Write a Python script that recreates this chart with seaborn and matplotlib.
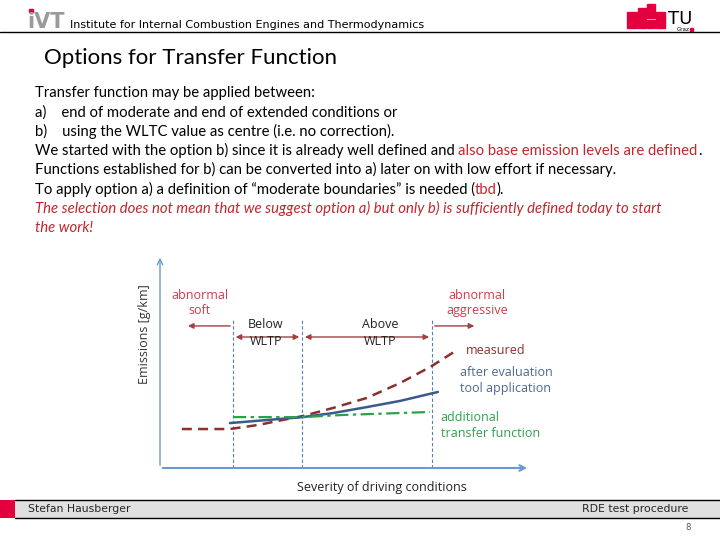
import numpy as np
import pandas as pd
import matplotlib
matplotlib.use("Agg")
import matplotlib.pyplot as plt
from matplotlib.patches import Rectangle
import seaborn as sns

# Curve values (severity vs emissions, arbitrary units 0-100)
measured_x = [5.9, 18.9, 26.5, 33.0, 38.6, 46.8, 55.9, 64.9, 73.0, 80.3]
measured_y = [18.3, 18.3, 20.2, 22.5, 24.4, 28.2, 32.9, 39.9, 47.4, 55.4]
tool_x = [18.9, 38.6, 46.8, 55.9, 64.9, 75.1]
tool_y = [21.1, 23.9, 25.8, 28.6, 31.5, 35.7]
transfer_x = [19.7, 38.6, 49.5, 73.0]
transfer_y = [23.9, 23.9, 24.9, 26.3]
boundaries = [19.7, 38.4, 73.5]

body_lines = [
    [("Transfer function may be applied between:", "k", "normal")],
    [("a)    end of moderate and end of extended conditions or", "k", "normal")],
    [("b)    using the WLTC value as centre (i.e. no correction).", "k", "normal")],
    [("We started with the option b) since it is already well defined and ", "k", "normal"),
     ("also base emission levels are defined", "#C0272D", "normal"), (".", "k", "normal")],
    [("Functions established for b) can be converted into a) later on with low effort if necessary.", "k", "normal")],
    [("To apply option a) a definition of \u201cmoderate boundaries\u201d is needed (", "k", "normal"),
     ("tbd", "#C0272D", "normal"), (").", "k", "normal")],
    [("The selection does not mean that we suggest option a) but only b) is sufficiently defined today to start", "#C0272D", "italic")],
    [("the work!", "#C0272D", "italic")],
]

sns.set_style("white")
plt.rcParams['font.family'] = ['Lato', 'DejaVu Sans']

W, H = 720, 540
fig = plt.figure(figsize=(7.2, 5.4), dpi=100)
renderer = fig.canvas.get_renderer()


def fx(px):
    return px / W


def fy(py):
    return 1 - py / H


# header
fig.text(fx(27), fy(28), "iVT", fontsize=15, color="#9A9A9A", fontweight="bold",
         family="DejaVu Sans")
fig.add_artist(Rectangle((fx(29), fy(12)), 4 / W, 3 / H, color="#E3003F", transform=fig.transFigure))
fig.text(fx(70), fy(28), "Institute for Internal Combustion Engines and Thermodynamics",
         fontsize=8, color="k", family="DejaVu Sans")
fig.add_artist(plt.Line2D([0, 1], [fy(32), fy(32)], color="k", lw=1, transform=fig.transFigure))
for (rx, ry, rw, rh) in [(627, 12, 10, 16), (638, 8, 8, 20), (647, 4, 8, 14), (656, 12, 9, 16), (647, 20, 8, 8)]:
    fig.add_artist(Rectangle((fx(rx), fy(ry + rh)), rw / W, rh / H, color="#E3003F",
                             transform=fig.transFigure))
fig.text(fx(668), fy(24), "TU", fontsize=13, color="k", family="DejaVu Sans")
fig.text(fx(677), fy(31), "Graz", fontsize=4, color="k", family="DejaVu Sans")
fig.add_artist(Rectangle((fx(690), fy(31)), 3 / W, 3 / H, color="#E3003F", transform=fig.transFigure))

# title
fig.text(fx(44), fy(64), "Options for Transfer Function", fontsize=16, color="k")

# body text with coloured parts
y0 = 97
for i, parts in enumerate(body_lines):
    x = 35
    y = y0 + i * 19.3
    for s, c, st in parts:
        t = fig.text(fx(x), fy(y), s, fontsize=10.7, color=c, style=st)
        bb = t.get_window_extent(renderer)
        x = bb.x1

# chart
ax = fig.add_axes([fx(160), fy(468), (530 - 160) / W, (468 - 255) / H])
ax.set_xlim(0, 100)
ax.set_ylim(0, 100)
ax.axis("off")
axis_col = "#6A9BD0"
ax.annotate("", xy=(100, 0), xytext=(0, 0),
            arrowprops=dict(arrowstyle="->", color=axis_col, lw=1.5))
ax.annotate("", xy=(0, 100), xytext=(0, 0),
            arrowprops=dict(arrowstyle="->", color=axis_col, lw=1.0))
for b in boundaries:
    ax.plot([b, b], [0, 70.4], color="#5A7FB0", lw=0.8, ls=(0, (3, 2)))

sns.lineplot(x=measured_x, y=measured_y, ax=ax, color="#8B2F2F", lw=1.8,
             linestyle=(0, (4, 2.5)))
sns.lineplot(x=tool_x, y=tool_y, ax=ax, color="#3A5A8C", lw=1.8)
sns.lineplot(x=transfer_x, y=transfer_y, ax=ax, color="#2FA04A", lw=1.6,
             linestyle=(0, (6, 2, 1.5, 2)))

arrow_col = "#A04040"
ap = dict(arrowstyle="-|>", color=arrow_col, lw=1, mutation_scale=8)
ap2 = dict(arrowstyle="<|-|>", color=arrow_col, lw=1, mutation_scale=8)
ax.annotate("", xy=(6.8, 66.7), xytext=(boundaries[0], 66.7), arrowprops=ap)
ax.annotate("", xy=(boundaries[0], 61.5), xytext=(boundaries[1], 61.5), arrowprops=ap2)
ax.annotate("", xy=(boundaries[1], 61.5), xytext=(boundaries[2], 61.5), arrowprops=ap2)
ax.annotate("", xy=(85.7, 66.7), xytext=(boundaries[2], 66.7), arrowprops=ap)

red = "#D03C4A"
ax.text(10.8, 77.5, "abnormal\nsoft", color=red, fontsize=9, ha="center", va="center",
        linespacing=1.2, family="Open Sans")
ax.text(85.7, 77.5, "abnormal\naggressive", color=red, fontsize=9, ha="center", va="center",
        linespacing=1.2, family="Open Sans")
ax.text(28.6, 63.5, "Below\nWLTP", color="#222222", fontsize=9, ha="center", va="center",
        linespacing=1.4, family="Open Sans")
ax.text(59.5, 63.5, "Above\nWLTP", color="#222222", fontsize=9, ha="center", va="center",
        linespacing=1.4, family="Open Sans")
ax.text(82.7, 55.0, "measured", color="#8B2F2F", fontsize=9, ha="left", va="center",
        family="Open Sans")
ax.text(81.1, 41.0, "after evaluation\ntool application", color="#4A6A90", fontsize=9,
        ha="left", va="center", linespacing=1.3, family="Open Sans")
ax.text(75.9, 19.8, "additional\ntransfer function", color="#2FA04A", fontsize=9,
        ha="left", va="center", linespacing=1.3, family="Open Sans")
ax.text(60.0, -9, "Severity of driving conditions", color="#222222", fontsize=9,
        ha="center", va="center", family="Open Sans")
ax.text(-4.3, 63.0, "Emissions [g/km]", color="#333333", fontsize=9, rotation=90,
        ha="center", va="center", family="Open Sans")

# footer
fig.add_artist(Rectangle((0, fy(518)), 1, 18 / H, facecolor="#E0E0E0", edgecolor="none",
                         transform=fig.transFigure))
fig.add_artist(Rectangle((0, fy(518)), 15 / W, 18 / H, facecolor="#E3003F", edgecolor="none",
                         transform=fig.transFigure))
fig.add_artist(plt.Line2D([fx(15), 1], [fy(500), fy(500)], color="k", lw=1, transform=fig.transFigure))
fig.add_artist(plt.Line2D([fx(15), 1], [fy(518), fy(518)], color="k", lw=1, transform=fig.transFigure))
fig.text(fx(28), fy(509), "Stefan Hausberger", fontsize=7.8, va="center", family="DejaVu Sans")
fig.text(fx(688), fy(509), "RDE test procedure", fontsize=7.8, va="center", ha="right",
         family="DejaVu Sans")
fig.text(fx(691), fy(528), "8", fontsize=6, va="center", ha="right", color="#555555",
         family="DejaVu Sans")

fig.savefig("out.png", dpi=100)
